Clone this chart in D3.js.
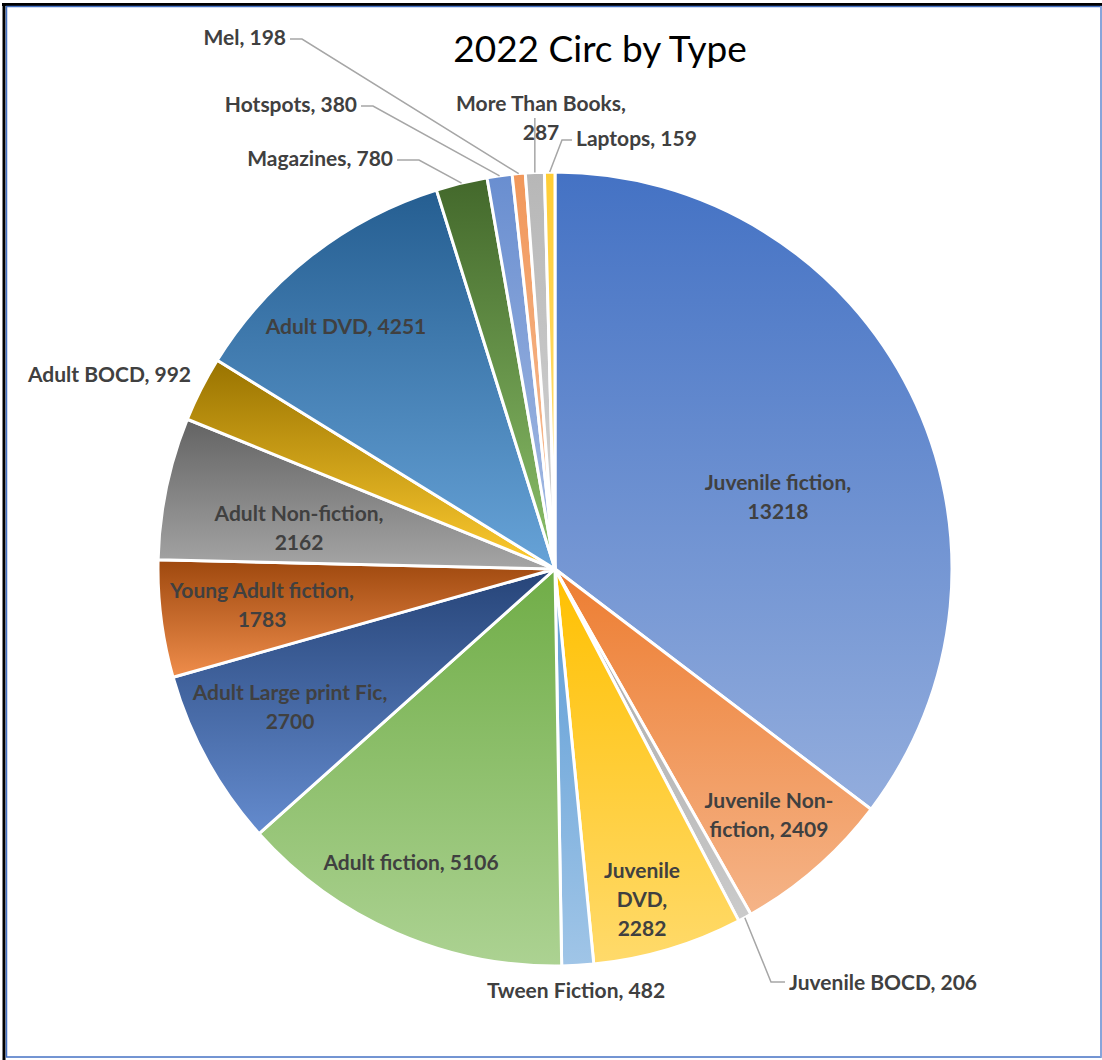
<!DOCTYPE html>
<html>
<head>
<meta charset="utf-8">
<script src="https://cdn.jsdelivr.net/npm/d3@7"></script>
<style>
  body { margin: 0; background: #fff; }
  svg { display: block; }
</style>
</head>
<body>
<div id="chart"></div>
<script>
// data, clockwise from 12 o'clock
const categories = ['Juvenile fiction', 'Juvenile Non-fiction', 'Juvenile BOCD', 'Juvenile DVD', 'Tween Fiction',
    'Adult fiction', 'Adult Large print Fic', 'Young Adult fiction', 'Adult Non-fiction', 'Adult BOCD',
    'Adult DVD', 'Magazines', 'Hotspots', 'Mel', 'More Than Books', 'Laptops'];
const values = [13218, 2409, 206, 2282, 482, 5106, 2700, 1783, 2162, 992, 4251, 780, 380, 198, 287, 159];
const title = '2022 Circ by Type';

// office palette (base, then darker, then lighter variants)
const colors = ['#4472C4', '#ED7D31', '#A5A5A5', '#FFC000', '#5B9BD5', '#70AD47',
    '#264478', '#9E480E', '#636363', '#997300', '#255E91', '#43682B',
    '#698ED0', '#F1975A', '#B7B7B7', '#FFCD33'];

// label layout: offset from pie centre, anchor, words per line, leader line (elbow offset from text)
const labelLayout = [
    { dx: 223, dy: -79, anchor: 'middle', lines: [2, 1] },
    { dx: 214, dy: 239, anchor: 'middle', lines: [2, 2] },
    { dx: 234, dy: 421, anchor: 'start', lines: [3], leader: [-4, -8, -14] },
    { dx: 87, dy: 309, anchor: 'middle', lines: [1, 1, 1] },
    { dx: 21, dy: 429, anchor: 'middle', lines: [3] },
    { dx: -144, dy: 301, anchor: 'middle', lines: [3] },
    { dx: -265, dy: 131, anchor: 'middle', lines: [4, 1] },
    { dx: -293, dy: 29, anchor: 'middle', lines: [3, 1] },
    { dx: -256, dy: -48, anchor: 'middle', lines: [3, 1] },
    { dx: -364, dy: -187, anchor: 'end', lines: [3] },
    { dx: -209, dy: -235, anchor: 'middle', lines: [3] },
    { dx: -162, dy: -403, anchor: 'end', lines: [2], leader: [4, -6, 22] },
    { dx: -198, dy: -457, anchor: 'end', lines: [2], leader: [4, -6, 12] },
    { dx: -269, dy: -524, anchor: 'end', lines: [2], leader: [4, -6, 12] },
    { dx: -14, dy: -458, anchor: 'middle', lines: [3, 1], leaderUp: -451 },
    { dx: 21, dy: -423, anchor: 'start', lines: [2], leader: [-4, -6, -10] }
];

const width = 1102, height = 1060;
const cx = 555, cy = 569, radius = 397;
const labelColor = '#404040';
const fontLabel = 'Lato, "Liberation Sans", sans-serif';

const svg = d3.select('#chart')
    .append('svg')
    .attr('width', width)
    .attr('height', height);

// gradient per slice: base colour at top, lighter at bottom
const defs = svg.append('defs');
colors.forEach((c, i) => {
    const hsl = d3.hsl(c);
    const light = d3.hsl(hsl.h, hsl.s, hsl.l + (1 - hsl.l) * 0.42);
    const g = defs.append('linearGradient')
        .attr('id', `grad_${i}`)
        .attr('x1', 0).attr('y1', 0).attr('x2', 0).attr('y2', 1);
    g.append('stop').attr('offset', '0%').attr('stop-color', c);
    g.append('stop').attr('offset', '100%').attr('stop-color', light.formatHex());
});

// frame
svg.append('line').attr('x1', 2).attr('y1', 4.5).attr('x2', width).attr('y2', 4.5)
    .attr('stroke', '#000').attr('stroke-width', 3);
svg.append('line').attr('x1', 4).attr('y1', 3).attr('x2', 4).attr('y2', height)
    .attr('stroke', '#000').attr('stroke-width', 3);
svg.append('rect').attr('x', 6.5).attr('y', 6.5).attr('width', 1094.5).attr('height', 1050.5)
    .attr('fill', 'none').attr('stroke', '#4472C4').attr('stroke-width', 1.5);
svg.append('line').attr('x1', 1101).attr('y1', 6).attr('x2', 1101).attr('y2', 1057)
    .attr('stroke', '#8FAADC').attr('stroke-width', 1.5);

// title
svg.append('text')
    .attr('x', 600).attr('y', 62)
    .attr('text-anchor', 'middle')
    .attr('font-family', fontLabel)
    .attr('font-size', 37)
    .attr('fill', '#000')
    .text(title);

const pie = d3.pie().sort(null).value(d => d)(values);
const arc = d3.arc().innerRadius(0).outerRadius(radius);

const g = svg.append('g').attr('transform', `translate(${cx},${cy})`);

g.selectAll('path')
    .data(pie)
    .enter()
    .append('path')
    .attr('d', arc)
    .attr('fill', (d, i) => `url(#grad_${i})`)
    .attr('stroke', '#fff')
    .attr('stroke-width', 3)
    .attr('stroke-linejoin', 'round');

// leader lines
const edgePoint = d => {
    const a = (d.startAngle + d.endAngle) / 2;
    return [radius * Math.sin(a), -radius * Math.cos(a)];
};

pie.forEach((d, i) => {
    const lay = labelLayout[i];
    const p = edgePoint(d);
    if (lay.leader) {
        const [gap, lift, len] = lay.leader;
        const x0 = lay.dx + gap, y0 = lay.dy + lift;
        const x1 = x0 + len;
        g.append('path')
            .attr('d', d3.line()([[p[0], p[1]], [x1, y0], [x0, y0]]))
            .attr('fill', 'none')
            .attr('stroke', '#A6A6A6')
            .attr('stroke-width', 1.5);
    }
    if (lay.leaderUp) {
        g.append('line')
            .attr('x1', p[0]).attr('y1', p[1])
            .attr('x2', p[0]).attr('y2', lay.leaderUp)
            .attr('stroke', '#A6A6A6')
            .attr('stroke-width', 1.5);
    }
});

// labels
const lineH = 29;
pie.forEach((d, i) => {
    const lay = labelLayout[i];
    const full = `${categories[i]}, ${values[i]}`;
    const tokens = full.replace(/-/g, '- ').split(' ').filter(t => t.length);
    const lines = [];
    let k = 0;
    lay.lines.forEach(n => {
        lines.push(tokens.slice(k, k + n).join(' ').replace(/- /g, '-'));
        k += n;
    });

    const t = g.append('text')
        .attr('x', lay.dx)
        .attr('y', lay.dy)
        .attr('text-anchor', lay.anchor)
        .attr('font-family', fontLabel)
        .attr('font-weight', 'bold')
        .attr('font-size', 21)
        .attr('fill', labelColor);

    lines.forEach((ln, j) => {
        t.append('tspan')
            .attr('x', lay.dx)
            .attr('dy', j === 0 ? 0 : lineH)
            .text(ln);
    });
});
</script>
</body>
</html>
